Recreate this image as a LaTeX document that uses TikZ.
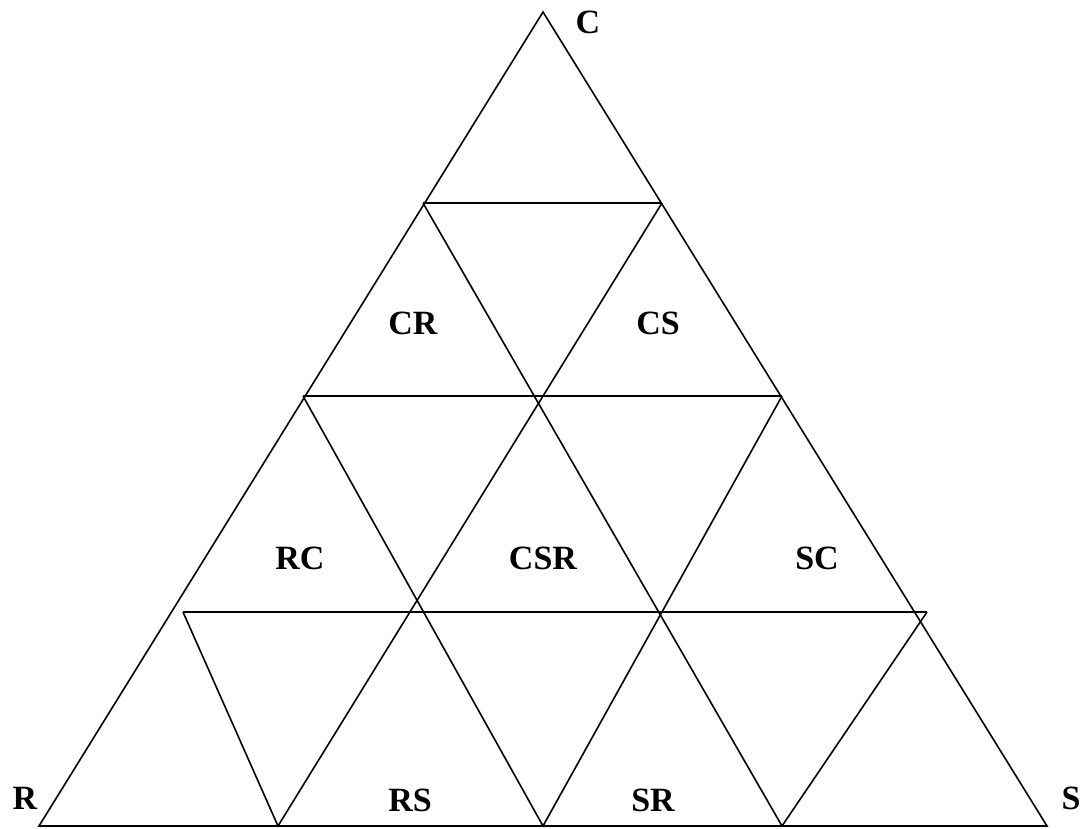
\documentclass[tikz,border=0pt]{standalone}
\usepackage{fontspec}
\setmainfont{Liberation Serif}
\begin{document}
\begin{tikzpicture}[x=1pt,y=-1pt,
  edge/.style={draw=black,line width=1.6pt,line join=miter},
  lbl/.style={font=\fontsize{34}{38}\selectfont\bfseries,inner sep=0pt}]
\useasboundingbox[fill=white] (0,0) rectangle (1082,828);
\coordinate (A) at (543,12);
\coordinate (L) at (39,826);
\coordinate (Rb) at (1047,826);
\coordinate (P1) at (423,203);
\coordinate (P2) at (662,203);
\coordinate (Q1) at (303,396);
\coordinate (Q2) at (782,396);
\coordinate (H1) at (183,612);
\coordinate (H2) at (927,612);
\coordinate (B1) at (278,826);
\coordinate (B2) at (543,826);
\coordinate (B3) at (782,826);
\draw[edge] (L) -- (A) -- (Rb) -- cycle;
\draw[edge] (P1) -- (P2);
\draw[edge] (Q1) -- (Q2);
\draw[edge] (H1) -- (H2);
\draw[edge] (P1) -- (B3);
\draw[edge] (P2) -- (B1);
\draw[edge] (Q1) -- (B2);
\draw[edge] (Q2) -- (B2);
\draw[edge] (H1) -- (B1);
\draw[edge] (H2) -- (B3);
\node[lbl] (lC) at (588,22) {C};
\node[lbl] (lR) at (25,798) {R};
\node[lbl] (lS) at (1071,798) {S};
\node[lbl] (lCR) at (413,323) {CR};
\node[lbl] (lCS) at (658,323) {CS};
\node[lbl] (lRC) at (300,558) {RC};
\node[lbl] (lCSR) at (543,558) {CSR};
\node[lbl] (lSC) at (817,558) {SC};
\node[lbl] (lRS) at (410,800) {RS};
\node[lbl] (lSR) at (653,800) {SR};
\end{tikzpicture}
\end{document}
